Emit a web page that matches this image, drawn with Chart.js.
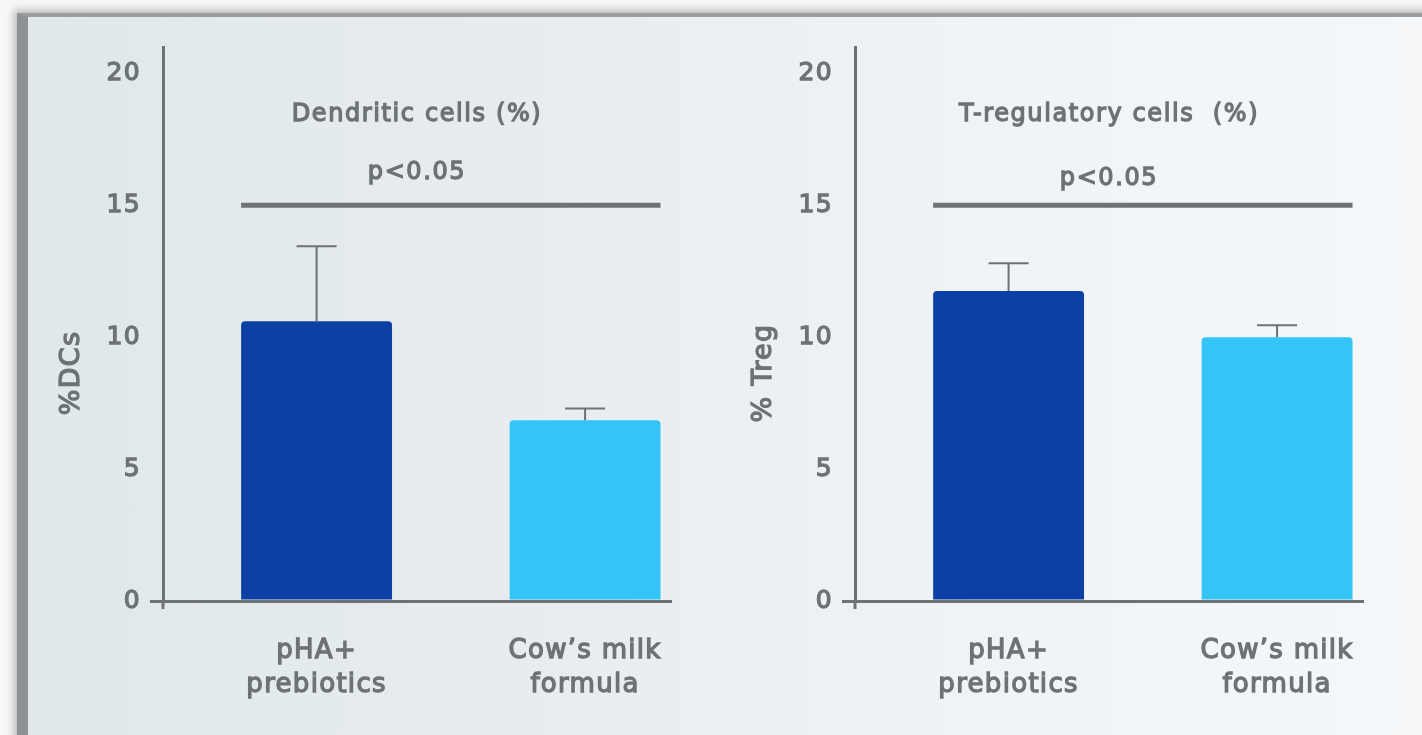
<!DOCTYPE html>
<html>
<head>
<meta charset="utf-8">
<script src="https://cdn.jsdelivr.net/npm/chart.js@4.4.1/dist/chart.umd.min.js"></script>
<style>
  html, body { margin: 0; padding: 0; width: 1422px; height: 735px; overflow: hidden; background: #f7f7f7; }
  .frame {
    position: absolute; left: 17px; top: 13px; right: -30px; bottom: -30px;
    border-left: 11px solid #8f9294; border-top: 4px solid #9b9ea0;
    background: linear-gradient(to right, #e1e8ec 0%, #e6ecef 35%, #f1f4f6 70%, #f5f7f9 100%);
    box-shadow: -3px -3px 8px rgba(0,0,0,0.25);
  }
  .panel { position: absolute; top: 0; width: 692px; height: 735px; }
</style>
</head>
<body>
<div class="frame"></div>
<div class="panel" style="left:30px"><canvas id="dcChart" width="692" height="735"></canvas></div>
<div class="panel" style="left:722px"><canvas id="tregChart" width="692" height="735"></canvas></div>
<script>
// data
const categories = [['pHA+', 'prebiotics'], ['Cow\u2019s milk', 'formula']];
const dcMeans = [10.6, 6.85];
const dcErrors = [2.85, 0.45];
const tregMeans = [11.75, 10.0];
const tregErrors = [1.05, 0.45];
const yTicks = [0, 5, 10, 15, 20];
const sigLevel = 15;
const sigText = 'p<0.05';

const barColors = ['#0c40a4', '#35c4f6'];
const gray = '#6c7276';
const fontFamily = "'DejaVu Sans', sans-serif";
const strokeW = 1.3;

// error bars, significance bar and the in-plot texts
const annot = {
  id: 'annot',
  beforeDraw(chart) {
    chart.ctx.letterSpacing = '1.3px';
  },
  afterDatasetsDraw(chart, args, o) {
    const ctx = chart.ctx;
    const y = chart.scales.y;
    const area = chart.chartArea;
    const bars = chart.getDatasetMeta(0).data;
    ctx.save();
    ctx.strokeStyle = gray;
    ctx.lineWidth = 2;
    bars.forEach((b, i) => {
      const top = y.getPixelForValue(o.means[i] + o.errors[i]);
      ctx.beginPath();
      ctx.moveTo(b.x, b.y);
      ctx.lineTo(b.x, top);
      ctx.moveTo(b.x - 20, top);
      ctx.lineTo(b.x + 20, top);
      ctx.stroke();
    });

    const sy = y.getPixelForValue(sigLevel);
    ctx.lineWidth = 5;
    ctx.beginPath();
    ctx.moveTo(bars[0].x - bars[0].width / 2, sy);
    ctx.lineTo(bars[1].x + bars[1].width / 2, sy);
    ctx.stroke();

    // small stub of the y axis below the x axis
    ctx.lineWidth = 3;
    ctx.beginPath();
    ctx.moveTo(area.left, area.bottom);
    ctx.lineTo(area.left, area.bottom + 8);
    ctx.stroke();

    const cx = (area.left + area.right) / 2;
    ctx.fillStyle = gray;
    ctx.lineWidth = strokeW;
    ctx.textAlign = 'center';
    ctx.textBaseline = 'middle';
    ctx.letterSpacing = '1.6px';
    ctx.font = '24px ' + fontFamily;
    ctx.fillText(o.title, cx, area.top + 68);
    ctx.strokeText(o.title, cx, area.top + 68);
    ctx.fillText(sigText, cx, sy - o.pOffset);
    ctx.strokeText(sigText, cx, sy - o.pOffset);

    ctx.letterSpacing = '1.3px';
    ctx.font = '27px ' + fontFamily;
    ctx.translate(o.yTitleX, o.yTitleY);
    ctx.rotate(-Math.PI / 2);
    ctx.fillText(o.yTitle, 0, 0);
    ctx.strokeText(o.yTitle, 0, 0);
    ctx.restore();
  }
};

function makeChart(id, means, errors, title, yTitle, pOffset) {
  return new Chart(document.getElementById(id), {
    type: 'bar',
    data: {
      datasets: [{
        data: means.map((v, i) => ({ x: i, y: v })),
        backgroundColor: barColors,
        borderRadius: 4,
        borderSkipped: 'start',
        barPercentage: 0.562,
        categoryPercentage: 1
      }]
    },
    options: {
      responsive: false,
      animation: false,
      layout: { padding: { left: 0, top: 47, right: 51, bottom: 0 } },
      plugins: {
        legend: { display: false },
        tooltip: { enabled: false },
        annot: { means: means, errors: errors, title: title, yTitle: yTitle, yTitleX: 42, yTitleY: 373, pOffset: pOffset }
      },
      scales: {
        x: {
          type: 'linear',
          offset: false,
          min: -0.572,
          max: 1.32,
          afterBuildTicks: s => { s.ticks = categories.map((c, i) => ({ value: i })); },
          afterFit: s => { s.height = 134; },
          grid: { display: false },
          border: { display: true, color: gray, width: 3 },
          ticks: {
            autoSkip: false,
            maxRotation: 0,
            padding: 25,
            color: gray,
            textStrokeColor: gray,
            textStrokeWidth: strokeW,
            font: { family: fontFamily, size: 26, lineHeight: '34px' },
            callback: v => categories[v]
          }
        },
        y: {
          min: 0,
          max: 21,
          afterBuildTicks: s => { s.ticks = yTicks.map(v => ({ value: v })); },
          afterFit: s => { s.width = 133; },
          grid: {
            drawOnChartArea: false,
            tickLength: 13,
            lineWidth: 3,
            color: c => (c.tick && c.tick.value === 0 ? gray : 'rgba(0,0,0,0)')
          },
          border: { display: true, color: gray, width: 3 },
          ticks: {
            padding: 9,
            color: gray,
            textStrokeColor: gray,
            textStrokeWidth: strokeW,
            font: { family: fontFamily, size: 25 }
          }
        }
      }
    },
    plugins: [annot]
  });
}

makeChart('dcChart', dcMeans, dcErrors, 'Dendritic cells (%)', '%DCs', 33);
makeChart('tregChart', tregMeans, tregErrors, 'T-regulatory cells  (%)', '% Treg', 27);
</script>
</body>
</html>
